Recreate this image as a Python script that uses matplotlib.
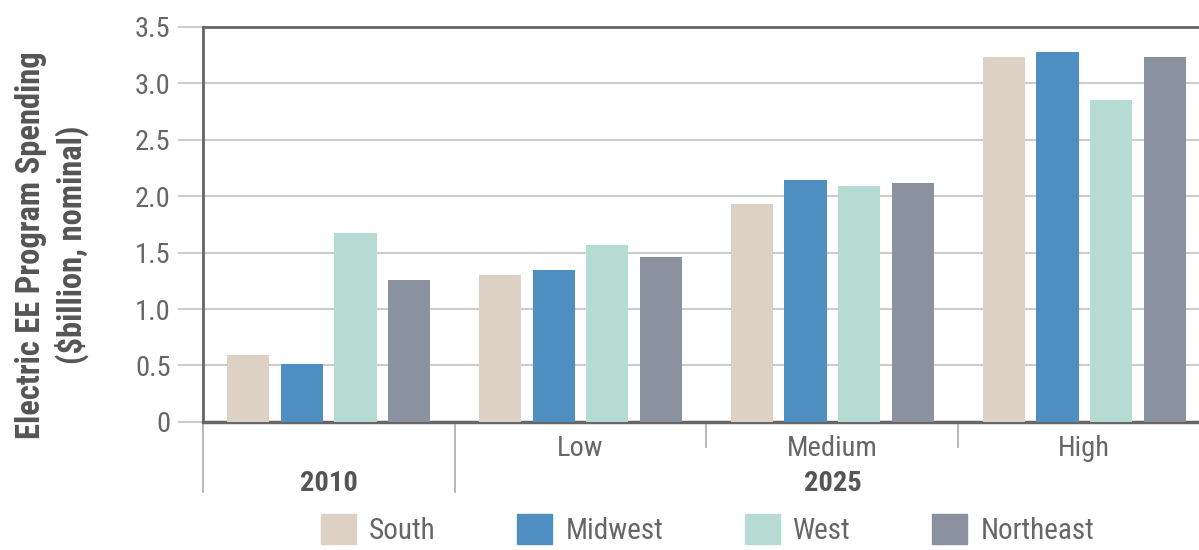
import numpy as np
import matplotlib
matplotlib.use("Agg")
import matplotlib.pyplot as plt
from matplotlib.patches import Patch
from matplotlib.transforms import blended_transform_factory

plt.rcParams['font.family'] = ['Roboto Condensed', 'Archivo Narrow', 'DejaVu Sans']

# data
groups = ['2010', 'Low', 'Medium', 'High']
regions = ['South', 'Midwest', 'West', 'Northeast']
south = [0.59, 1.30, 1.93, 3.23]
midwest = [0.51, 1.35, 2.14, 3.28]
west = [1.67, 1.57, 2.09, 2.85]
northeast = [1.26, 1.46, 2.12, 3.23]
yticks = [0, 0.5, 1.0, 1.5, 2.0, 2.5, 3.0, 3.5]
ytick_labels = ['0', '0.5', '1.0', '1.5', '2.0', '2.5', '3.0', '3.5']

colors = ['#ddd0c4', '#4f8ec1', '#b5dbd3', '#8a929f']
gray_txt = '#666666'
gstep = 4.7

fig = plt.figure(figsize=(11.99, 5.5), dpi=100)
ax = fig.add_axes([0.169, 0.233, 0.831, 0.718])

centers = np.arange(len(groups)) * gstep
series = [south, midwest, west, northeast]
for i, vals in enumerate(series):
    ax.bar(centers + (i - 1.5), vals, width=0.79, color=colors[i], zorder=3)

ax.set_ylim(0, 3.5)
ax.set_xlim(-gstep / 2, 16.24)
ax.set_yticks(yticks)
ax.set_yticklabels(ytick_labels, fontsize=20.5, color=gray_txt)
ax.set_xticks([])
ax.grid(axis='y', color='#cccccc', linewidth=1.5, zorder=0)
ax.tick_params(axis='y', length=18, width=1.5, color='#cccccc', pad=5)

for s in ['top', 'left', 'bottom']:
    ax.spines[s].set_color('#666666')
    ax.spines[s].set_linewidth(2)
ax.spines['bottom'].set_linewidth(2.5)
ax.spines['right'].set_visible(False)

# category labels under the axis
tr = blended_transform_factory(ax.transData, ax.transAxes)
for g in range(1, 4):
    ax.text(centers[g], -0.068, groups[g], transform=tr, ha='center', va='center',
            fontsize=20.5, color=gray_txt)
ax.text(centers[0], -0.157, '2010', transform=tr, ha='center', va='center',
        fontsize=20.5, color='#555555', fontweight='bold')
ax.text(centers[2], -0.157, '2025', transform=tr, ha='center', va='center',
        fontsize=20.5, color='#555555', fontweight='bold')

# separators
ax.plot([-gstep / 2, -gstep / 2], [0, -0.177], transform=tr, color='#aaaaaa', lw=1.2, clip_on=False)
ax.plot([gstep / 2, gstep / 2], [0, -0.177], transform=tr, color='#aaaaaa', lw=1.2, clip_on=False)
for g in [2, 3]:
    x = centers[g] - gstep / 2
    ax.plot([x, x], [0, -0.063], transform=tr, color='#aaaaaa', lw=1.2, clip_on=False)

fig.text(0.0434, 0.5545, 'Electric EE Program Spending\n($billion, nominal)', rotation=90,
         ha='center', va='center', multialignment='center', fontsize=23.5,
         fontweight='bold', color='#555555', linespacing=1.3)

handles = [Patch(color=c) for c in colors]
fig.legend(handles, regions, loc='lower center', bbox_to_anchor=(0.59, -0.038), ncol=4,
           frameon=False, fontsize=21, handlelength=1.2, handleheight=1.2,
           columnspacing=2.8, handletextpad=0.45, labelcolor=gray_txt)

fig.savefig('out.png', dpi=100)
